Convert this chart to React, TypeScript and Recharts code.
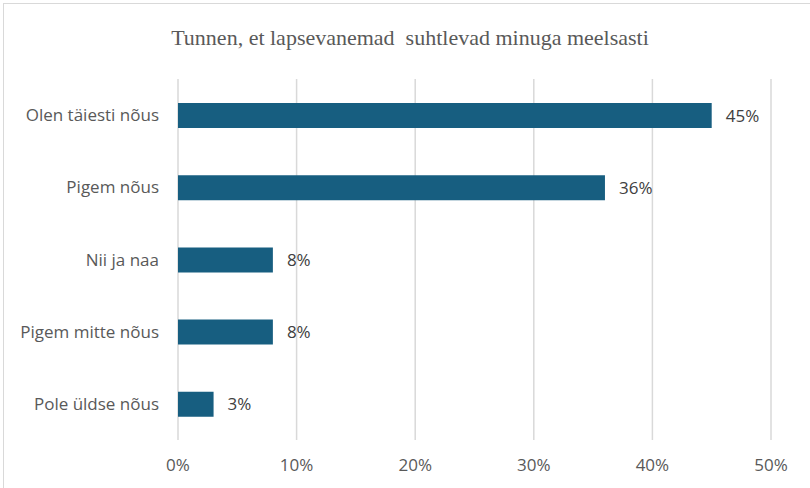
import { BarChart, Bar, XAxis, YAxis, CartesianGrid, LabelList } from 'recharts';

const categories = ['Olen täiesti nõus', 'Pigem nõus', 'Nii ja naa', 'Pigem mitte nõus', 'Pole üldse nõus'];
const shares = [45, 36, 8, 8, 3];
const xTicks = [0, 10, 20, 30, 40, 50];

const data = categories.map((name, i) => ({ name, value: shares[i] }));

const FONT = '"Open Sans", Lato, sans-serif';

export default function App() {
  return (
    <div style={{ position: 'absolute', left: 0, top: 0, width: 810, height: 488, background: '#fff', overflow: 'hidden' }}>
      <div style={{ position: 'absolute', left: 3, top: 3, width: 820, height: 500, border: '1px solid #d9d9d9', boxSizing: 'border-box' }} />
      <div style={{ position: 'absolute', left: 0, top: 25, width: 820, textAlign: 'center', fontFamily: '"Liberation Serif", serif', fontSize: 22, color: '#595959' }}>
        Tunnen, et lapsevanemad&nbsp; suhtlevad minuga meelsasti
      </div>
      <div style={{ position: 'absolute', left: 0, top: 0 }}>
        <BarChart width={810} height={488} data={data} layout="vertical" margin={{ top: 79, right: 39, bottom: 0, left: 0 }}>
          <CartesianGrid horizontal={false} stroke="#d9d9d9" strokeWidth={1.5} />
          <XAxis
            type="number"
            domain={[0, 50]}
            ticks={xTicks}
            tickFormatter={(v) => `${v}%`}
            axisLine={false}
            tickLine={false}
            tickSize={0}
            tickMargin={19}
            height={48}
            tick={{ fill: '#595959', fontSize: 17, fontFamily: FONT }}
          />
          <YAxis
            type="category"
            dataKey="name"
            width={178}
            axisLine={false}
            tickLine={false}
            tickSize={0}
            tickMargin={19}
            tick={{ fill: '#595959', fontSize: 17, fontFamily: FONT }}
          />
          <Bar dataKey="value" fill="#175e80" barSize={25} isAnimationActive={false}>
            <LabelList
              dataKey="value"
              position="right"
              offset={14}
              formatter={(v: number) => `${v}%`}
              style={{ fill: '#404040', fontSize: 17, fontFamily: FONT }}
            />
          </Bar>
        </BarChart>
      </div>
    </div>
  );
}
